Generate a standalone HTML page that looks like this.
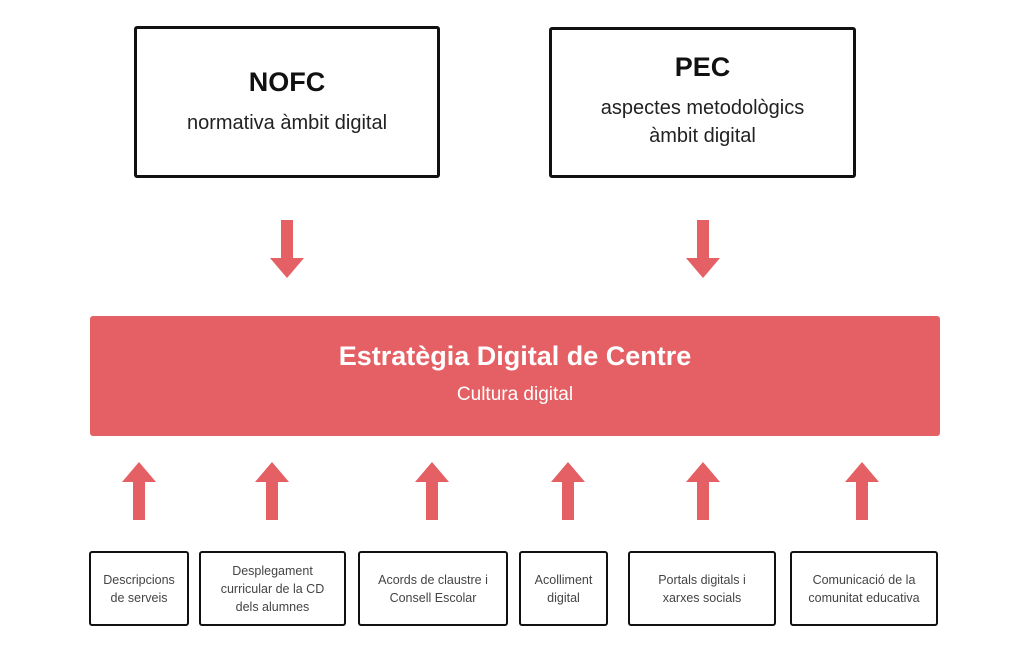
<!DOCTYPE html>
<html><head><meta charset="utf-8"><style>
body{margin:0;width:1024px;height:648px;background:#fff;position:relative;overflow:hidden;font-family:"Liberation Sans",Arial,sans-serif}
.b{position:absolute;border:3px solid #111;border-radius:3px;box-sizing:border-box;display:flex;flex-direction:column;align-items:center;justify-content:center;text-align:center;color:#222}
.s{font-size:12.5px;line-height:18px;color:#444;border-width:2.5px}
.t{font-weight:bold;font-size:27px;color:#111;margin-bottom:12px}
.u{font-size:20px;line-height:27px;color:#222}
.bar{position:absolute;left:90px;top:316px;width:850px;height:120px;background:#e56064;border-radius:3px;color:#fff;text-align:center}
svg{position:absolute;left:0;top:0}
</style></head><body>
<div class="b" style="left:134px;top:26px;width:306px;height:152px"><div class="t">NOFC</div><div class="u">normativa àmbit digital</div></div>
<div class="b" style="left:549px;top:27px;width:307px;height:151px;justify-content:flex-start;padding-top:22px"><div class="t" style="margin-bottom:11px">PEC</div><div class="u" style="line-height:28px">aspectes metodològics<br>àmbit digital</div></div>
<div class="bar"><div style="font-weight:bold;font-size:27px;margin-top:25px">Estratègia Digital de Centre</div><div style="font-size:19px;margin-top:12px">Cultura digital</div></div>
<svg width="1024" height="648" fill="#e56064">
<defs>
<path id="d" d="M-6,0 H6 V38 H17 L0,58 L-17,38 H-6 Z"/>
<path id="up" d="M-6,58 H6 V20 H17 L0,0 L-17,20 H-6 Z"/>
</defs>
<use href="#d" x="287" y="220"/><use href="#d" x="703" y="220"/>
<use href="#up" x="139" y="462"/><use href="#up" x="272" y="462"/><use href="#up" x="432" y="462"/><use href="#up" x="568" y="462"/><use href="#up" x="703" y="462"/><use href="#up" x="862" y="462"/>
</svg>
<div class="b s" style="left:89px;top:551px;width:100px;height:75px">Descripcions<br>de serveis</div>
<div class="b s" style="left:199px;top:551px;width:147px;height:75px">Desplegament<br>curricular de la CD<br>dels alumnes</div>
<div class="b s" style="left:358px;top:551px;width:150px;height:75px">Acords de claustre i<br>Consell Escolar</div>
<div class="b s" style="left:519px;top:551px;width:89px;height:75px">Acolliment<br>digital</div>
<div class="b s" style="left:628px;top:551px;width:148px;height:75px">Portals digitals i<br>xarxes socials</div>
<div class="b s" style="left:790px;top:551px;width:148px;height:75px">Comunicació de la<br>comunitat educativa</div>
</body></html>
